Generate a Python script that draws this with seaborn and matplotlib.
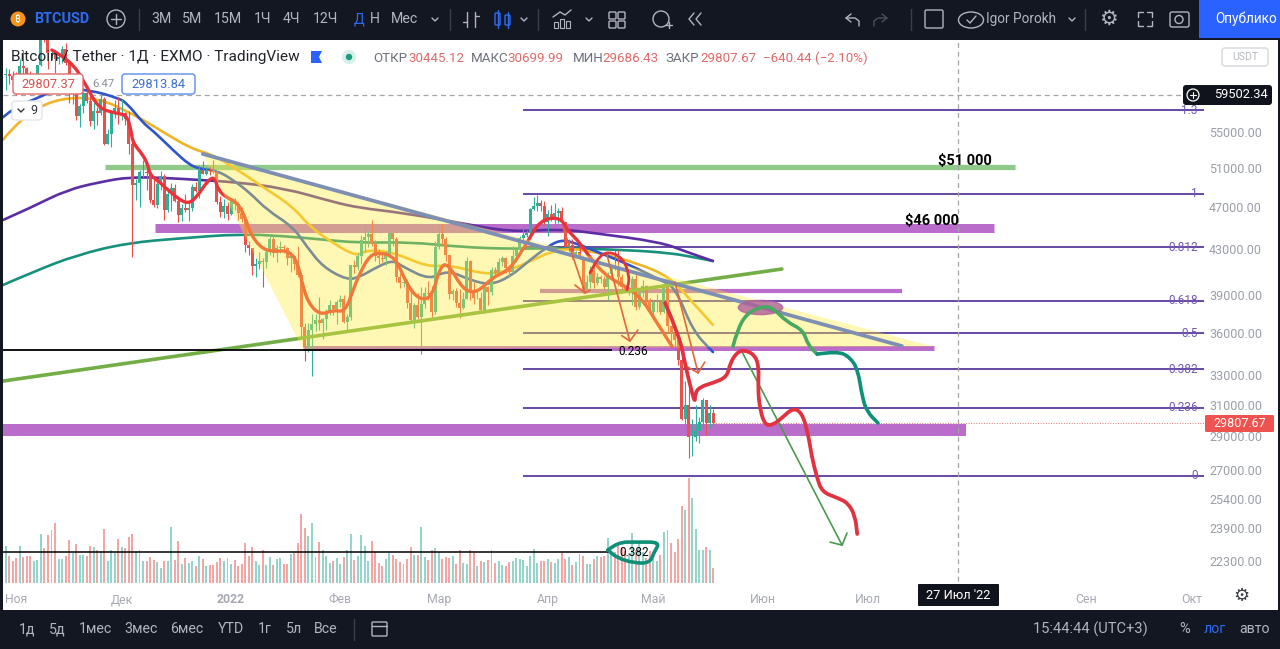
import pandas as pd
import matplotlib
matplotlib.use("Agg")
import matplotlib.pyplot as plt
from matplotlib.markers import MarkerStyle
from matplotlib.patches import Circle, Ellipse, FancyBboxPatch, PathPatch, Rectangle
from matplotlib.path import Path
from matplotlib.ticker import NullFormatter, NullLocator
from matplotlib.transforms import Affine2D
import seaborn as sns

# -----------------------------
# DATA (day 0 = 1 Nov 2021)
# -----------------------------
open_oct = [62000, 62200, 61900]
open_nov = [61300, 61000, 63200, 62900, 61400, 61000, 61500, 63300, 67500, 66900, 64900, 64900, 64100, 64400, 65500,
            63600, 60100, 60400, 56900, 58100, 59700, 58700, 56300, 57500, 57200, 58900, 53600, 54800, 57200, 57800]
open_dec = [57000, 57200, 56500, 53600, 49200, 49400, 50600, 50600, 50500, 47700, 47200, 49300, 50100, 46700, 48300, 48900,
            47600, 46200, 46900, 46700, 46900, 49000, 48600, 50800, 50400, 50800, 50700, 50600, 47500, 46500, 47100]
open_jan = [46300, 47700, 47300, 46400, 45800, 43400, 43100, 41500, 41700, 41900, 41800, 42700, 43900, 42600, 43100, 43200,
            43100, 42200, 42400, 41700, 40700, 36500, 35000, 36300, 36700, 37000, 36800, 37100, 37700, 38200, 37900]
open_feb = [38500, 38700, 36900, 37300, 41600, 41400, 42400, 43800, 44100, 44400, 43500, 42400, 42200, 42100,
            42500, 44500, 43900, 40500, 40000, 40100, 38400, 37000, 38200, 37300, 38300, 39200, 39100, 37700]
open_mar = [43200, 44400, 43900, 42500, 39100, 39400, 38400, 37990, 38700, 41900, 39400, 38800, 38800, 37800, 39700, 39300,
            41100, 40900, 41800, 42200, 41300, 41000, 42400, 42900, 44000, 44300, 44500, 46800, 47100, 47400, 47100]
open_apr = [45500, 46300, 45800, 46400, 46600, 45500, 43200, 43400, 42300, 42700, 42150, 39500, 40100, 41100, 40000,
            40500, 40400, 39700, 40800, 41500, 41400, 40500, 39700, 39450, 39450, 40400, 38100, 39200, 39750, 38600]
open_may = [37650, 38450, 38500, 37700, 39700, 36550, 36000, 35500, 34050, 30100, 31000, 28950, 28950, 29300, 29900,
            31300, 29850, 30445.12]

high_oct = [62900, 62800, 62500]
high_nov = [62400, 64200, 65400, 63100, 62600, 61900, 63300, 67800, 68500, 69000, 65500, 65400, 65000, 65900, 66300,
            63500, 61000, 60900, 58300, 59800, 60000, 59300, 58600, 58000, 59400, 59200, 55300, 57400, 58800, 59200]
high_dec = [59000, 57400, 57500, 53900, 49800, 50800, 51900, 51100, 50700, 50000, 49700, 50700, 50300, 48900, 49400, 49300,
            47900, 47300, 48300, 47500, 49300, 49500, 51300, 51800, 51100, 51200, 51900, 50700, 48100, 47800, 47500]
high_jan = [47900, 47900, 47500, 47000, 46000, 43700, 43100, 42200, 42700, 42200, 43000, 44200, 44300, 43400, 43700, 43400,
            43200, 42700, 42500, 43300, 41000, 36800, 36800, 37500, 37500, 38900, 37200, 37900, 38600, 38200, 38600]
high_feb = [39000, 39000, 37500, 41600, 42000, 42600, 44300, 45200, 44700, 45700, 43800, 43000, 42700, 42800,
            44700, 44500, 44100, 40900, 40400, 40400, 39400, 38400, 39200, 39700, 39700, 40200, 39800, 43700]
high_mar = [44900, 45300, 44100, 42500, 39500, 39600, 39500, 39300, 42300, 42000, 40100, 39500, 39300, 39900, 39800, 41400,
            41400, 42200, 42400, 42300, 41500, 43300, 43000, 44200, 45000, 44800, 46900, 48000, 48200, 47700, 47600]
high_apr = [46700, 47200, 47400, 46900, 47000, 45500, 43900, 43900, 42800, 43400, 42400, 40700, 41500, 41500, 40900,
            40700, 40600, 41000, 41700, 42900, 42900, 40800, 39900, 39700, 40600, 40800, 39400, 40300, 39900, 38800]
high_may = [38600, 39100, 38600, 40000, 39800, 36600, 36000, 35500, 34200, 32600, 32100, 30100, 31000, 30200, 31400,
            31300, 31000, 30699.99]

low_oct = [60100, 60800, 59900]
low_nov = [59400, 60100, 60700, 60700, 60800, 60100, 61400, 63200, 66400, 62800, 64200, 62300, 63400, 63600, 63300,
           58500, 58400, 56400, 55600, 57300, 58500, 55700, 55300, 55800, 57000, 53500, 53600, 53300, 56700, 55900]
low_dec = [56400, 55800, 52500, 42300, 47700, 47000, 50000, 48700, 47400, 47000, 46900, 48700, 45700, 46500, 46600, 47500,
           45500, 45600, 46500, 45600, 46600, 48500, 47900, 50400, 50200, 50200, 50500, 47300, 46000, 45900, 45700]
low_jan = [46200, 46700, 45700, 45500, 42700, 42500, 40700, 40500, 41200, 39700, 41300, 42500, 42300, 41800, 42600, 42600,
           41600, 41000, 41100, 40500, 35700, 34000, 34600, 32900, 36200, 36300, 35600, 36300, 37400, 37400, 36700]
low_feb = [38100, 36800, 36300, 37000, 40900, 41100, 41700, 42700, 43200, 43300, 41900, 41700, 41800, 41600,
           42500, 43300, 40100, 39600, 39700, 38000, 36800, 36400, 37100, 34500, 38000, 38600, 37000, 37500]
low_mar = [43000, 43400, 41900, 38700, 38600, 38100, 37200, 37900, 38700, 38600, 38300, 38700, 37600, 37600, 38200, 39000,
           40500, 40600, 41500, 40900, 40500, 40900, 41800, 42600, 43600, 44100, 44400, 46700, 46600, 46600, 45200]
low_apr = [44200, 45600, 45100, 45400, 45400, 43100, 42700, 42100, 42300, 42100, 39200, 39200, 39600, 39600, 39900,
           40000, 39500, 38600, 40500, 41100, 39800, 39200, 39300, 39000, 38200, 37800, 37900, 38900, 38200, 37600]
low_may = [37400, 37700, 37500, 37600, 36000, 35300, 34800, 33700, 30000, 29700, 27700, 27800, 28700, 28600, 29500,
           29100, 29500, 29686.43]

close_oct = [62200, 61900, 61300]
close_nov = [61000, 63200, 62900, 61400, 61000, 61500, 63300, 67500, 66900, 64900, 64900, 64100, 64400, 65500, 63600,
             60100, 60400, 56900, 58100, 59700, 58700, 56300, 57500, 57200, 58900, 53600, 54800, 57200, 57800, 57000]
close_dec = [57200, 56500, 53600, 49200, 49400, 50600, 50600, 50500, 47700, 47200, 49300, 50100, 46700, 48300, 48900, 47600,
             46200, 46900, 46700, 46900, 49000, 48600, 50800, 50400, 50800, 50700, 50600, 47500, 46500, 47100, 46300]
close_jan = [47700, 47300, 46400, 45800, 43400, 43100, 41500, 41700, 41900, 41800, 42700, 43900, 42600, 43100, 43200, 43100,
             42200, 42400, 41700, 40700, 36500, 35000, 36300, 36700, 37000, 36800, 37100, 37700, 38200, 37900, 38500]
close_feb = [38700, 36900, 37300, 41600, 41400, 42400, 43800, 44100, 44400, 43500, 42400, 42200, 42100, 42500,
             44500, 43900, 40500, 40000, 40100, 38400, 37000, 38200, 37300, 38300, 39200, 39100, 37700, 43200]
close_mar = [44400, 43900, 42500, 39100, 39400, 38400, 37990, 38700, 41900, 39400, 38800, 38800, 37800, 39700, 39300, 41100,
             40900, 41800, 42200, 41300, 41000, 42400, 42900, 44000, 44300, 44500, 46800, 47100, 47400, 47100, 45500]
close_apr = [46300, 45800, 46400, 46600, 45500, 43200, 43400, 42300, 42700, 42150, 39500, 40100, 41100, 40000, 40500,
             40400, 39700, 40800, 41500, 41400, 40500, 39700, 39450, 39450, 40400, 38100, 39200, 39750, 38600, 37650]
close_may = [38450, 38500, 37700, 39700, 36550, 36000, 35500, 34050, 30100, 31000, 28950, 28950, 29300, 29900, 31300,
             29850, 30445.12, 29807.67]

volume = [37, 27, 22,
          25, 37, 26, 27, 27, 22, 23, 49, 35, 48,
          53, 60, 24, 24, 27, 43, 30, 39, 28, 28,
          27, 37, 36, 33, 32, 54, 22, 33, 30, 44,
          36, 35, 46, 49, 32, 33, 22, 22, 26, 23,
          21, 15, 22, 22, 56, 23, 42, 19, 25, 20,
          22, 17, 27, 24, 17, 18, 18, 21, 25, 22,
          25, 19, 23, 17, 19, 40, 27, 36, 22, 18,
          33, 18, 26, 18, 24, 25, 19, 19, 29, 30,
          40, 69, 55, 47, 60, 26, 41, 33, 27, 20,
          22, 25, 19, 26, 33, 49, 23, 27, 48, 37,
          22, 42, 31, 20, 17, 24, 30, 28, 24, 21,
          19, 24, 36, 28, 28, 56, 26, 23, 33, 35,
          31, 24, 26, 25, 27, 19, 33, 20, 19, 33,
          30, 17, 22, 21, 23, 33, 20, 22, 18, 17,
          21, 22, 25, 24, 23, 17, 27, 34, 20, 22,
          22, 24, 21, 20, 24, 30, 24, 26, 18, 21,
          29, 27, 19, 19, 24, 27, 26, 27, 45, 30,
          31, 37, 35, 32, 30, 50, 33, 40, 31, 25,
          32, 24, 22, 28, 51, 53, 40, 31, 44, 77,
          73, 105, 85, 54, 33, 33, 36, 33, 15]

# moving averages
ema_day = [10.1, 15.3, 19.5, 23.2, 28, 31.4, 32.6, 33.1, 36, 37.4, 38, 40, 42.8, 45.7, 48.8, 51.3, 54.5, 56.4, 57.3, 59.9,
           62.7, 65, 66.4, 69.2, 72.6, 76.9, 79.7, 81.2, 82.9, 86.3, 90, 93.4, 95.7, 97.6, 100.5, 103.3, 106.2, 108.4,
           111.3, 114.7, 118.1, 120.4, 122.6, 126.9, 130.9, 135.4, 140.2, 145.1, 148.8, 154.5, 156.5, 160.2, 163, 167.9,
           173.5, 178, 182, 186.3]
ema_px = [65360, 64000, 60980, 57850, 57240, 57000, 55230, 53750, 52410, 51300, 50240, 49720, 48790, 47870, 47270, 47970,
          49720, 50040, 48690, 47870, 47470, 46000, 44480, 43180, 42730, 42910, 42010, 40030, 38390, 37420, 37820, 37660,
          39450, 40880, 42460, 42640, 42460, 41750, 39700, 38630, 38870, 41410, 41750, 39450, 39200, 40540, 41140, 43550,
          45700, 46000, 44750, 43550, 42180, 40540, 39700, 38630, 36800, 35030]
blue_day = [-3.8, -0.4, 4.7, 12.4, 20.9, 28.9, 31.4, 36, 38.6, 44.5, 49.3, 53, 57, 61.6, 66.4, 71.2, 78.6, 82.6, 87.1, 93.9,
            97.6, 102.5, 107, 109.9, 117.5, 122.4, 128.9, 134.6, 140.2, 145.9, 150.8, 154.5, 158.1, 165.8, 174.3, 182.9,
            187.1, 192.2, 197.9]
blue_px = [56730, 57950, 58830, 60340, 60080, 59080, 58460, 56050, 55230, 52950, 51270, 50830, 50720, 49720, 48380, 46680,
           45040, 43180, 41410, 40290, 40540, 41410, 42010, 41410, 40290, 41140, 40290, 39860, 40540, 42010, 43180, 43820,
           43640, 42640, 41580, 40290, 39700, 36180, 34620]
yellow_day = [-3.8, -2.4, 4.7, 12.7, 23.2, 32.6, 40.8, 49.3, 55.9, 61.6, 69.2, 78.6, 83.4, 90, 94.8, 97.6, 99.6, 107, 116.7,
              123.2, 133.7, 140.2, 146.8, 151.6, 157.3, 165.8, 176.3, 185.7, 192.2, 197.9]
yellow_px = [54090, 54880, 57600, 59080, 59080, 57240, 55230, 53170, 52410, 51100, 49200, 47000, 45040, 43550, 42640, 42460,
             42910, 42730, 41410, 41580, 40710, 41140, 42010, 42730, 43090, 42640, 41750, 40540, 38390, 36660]
purple_day = [-3.8, 4.7, 14.4, 23.8, 32.3, 42.8, 52.2, 61.6, 75.8, 90, 97.6, 109.9, 126.1, 140.2, 154.5, 163.8, 182.9, 190.5, 197.9]
purple_px = [45700, 47000, 48690, 49510, 50040, 49930, 49720, 49510, 48900, 47470, 46880, 46390, 45420, 44570, 44850, 44480,
             43640, 42730, 41930]
teal_day = [-3.8, 4.7, 17.2, 31.4, 47.4, 63.6, 75.8, 85.4, 97.6, 111.8, 126.1, 141.1, 154.5, 173.5, 185.7, 192.2, 197.9]
teal_px = [39860, 40970, 42460, 43550, 44000, 44380, 44190, 43910, 43550, 43640, 43180, 43000, 43090, 42910, 42640, 42280, 41930]

# drawings on the chart
tri_day = [53, 81.4, 260.4]
tri_px = [52520, 34850, 35030]
trend_day = [53, 251.6]
trend_px = [52520, 35060]
support_day = [-3.8, 217.5]
support_px = [32570, 41230]

fib_levels = ["1.3", "1", "0.812", "0.618", "0.5", "0.382", "0.236", "0"]
fib_px = [57600, 48280, 43180, 38550, 36000, 33400, 30780, 26680]

band_px = [44900, 39360, 34880, 29380]
band_start = [39.4, 148.8, 81.4, -3.8]
band_end = [277.8, 251.6, 260.7, 269.8]

red_day = [184.3, 188.5, 190, 192.8, 192.8, 194.3, 197.9, 201.9, 202.8, 204.8, 207, 209.8, 211, 210.7, 211.3, 212.7, 215,
           217.8, 220.7, 223.2, 224.9, 226, 227.4, 228.9, 233.2, 236.3, 238.3, 238.9]
red_px = [38390, 35730, 33690, 30970, 31760, 32180, 32440, 32840, 33830, 34620, 34770, 34400, 33540, 31960, 30650, 29690,
          29690, 30200, 30780, 30460, 29200, 27760, 26620, 25790, 25480, 25200, 24520, 23610]
arc_day = [163, 165, 168.2, 172.4, 174.3, 173.5]
arc_px = [40880, 42180, 42820, 42180, 40540, 39450]
green_day = [203.6, 204.8, 207.6, 212.1, 215, 218.9, 223.5, 224.9, 227.5]
green_px = [35030, 36260, 37580, 38130, 37980, 36880, 36260, 35140, 34470]
teal2_day = [227.5, 233.2, 236.8, 239.1, 240.3, 241.7, 244.8]
teal2_px = [34470, 34690, 34260, 33340, 31500, 30520, 29820]
scribble_day = [168.1, 170.7, 176.6, 182.9, 181.2, 180, 175.5, 170.7, 168.1]
scribble_px = [22820, 23210, 23210, 23210, 22730, 22210, 22210, 22450, 22820]

# arrows: shaft start, tip, two head ends
arrow1_day = [155.3, 161.6, 158.7, 161.6, 163]
arrow1_px = [45040, 39200, 39860, 39200, 39450]
arrow2_day = [167.8, 174.3, 172, 174.3, 176.6]
arrow2_px = [42460, 35430, 35840, 35430, 36260]
arrow3_day = [187.1, 193.7, 190.8, 193.7, 195.6]
arrow3_px = [40120, 33130, 33540, 33130, 33900]
arrow4_day = [206.2, 234.6, 231.2, 234.6, 236]
arrow4_px = [34620, 23060, 23210, 23060, 23660]

price_ticks = [55000, 51000, 47000, 43000, 39000, 36000, 33000, 31000, 29000, 27000, 25400, 23900, 22300]
month_days = [0, 30, 61, 92, 120, 151, 181, 212, 242, 304, 334]
month_labels = ["Ноя", "Дек", "2022", "Фев", "Мар", "Апр", "Май", "Июн", "Июл", "Сен", "Окт"]

cross_price = 59502.34
cross_day = 267.6
last_close = 29807.67

# -----------------------------
# CHART
# -----------------------------
df = pd.DataFrame({
    "open": open_oct + open_nov + open_dec + open_jan + open_feb + open_mar + open_apr + open_may,
    "high": high_oct + high_nov + high_dec + high_jan + high_feb + high_mar + high_apr + high_may,
    "low": low_oct + low_nov + low_dec + low_jan + low_feb + low_mar + low_apr + low_may,
    "close": close_oct + close_nov + close_dec + close_jan + close_feb + close_mar + close_apr + close_may,
    "volume": volume,
})
df["day"] = df.index - 3
df["up"] = df["close"] >= df["open"]

sns.set_theme(style="white")
plt.rcParams["font.family"] = ["Roboto", "DejaVu Sans"]

fig = plt.figure(figsize=(12.8, 6.49), dpi=100, facecolor="white")
ax = fig.add_axes([3 / 1280, 39 / 649, 1202 / 1280, 570 / 649])
vol_ax = ax.twinx()
ax.set_zorder(vol_ax.get_zorder() + 1)
ax.patch.set_visible(False)

ax.set_yscale("log")
ax.set_xlim(-3.78, 337.7)
ax.set_ylim(20120, 66750)
vol_ax.set_ylim(-27, 543)
vol_ax.set_yticks([])
for side in ax.spines:
    ax.spines[side].set_visible(False)
    vol_ax.spines[side].set_visible(False)

UP = "#2fae98"
DOWN = "#ea4f4c"


def curve(days, prices, color, lw, zorder):
    # rounded stroke through the read points (quadratic path, the points stay as they are)
    pts = list(zip(days, prices))
    verts = [pts[0]]
    codes = [Path.MOVETO]
    for a, b in zip(pts[1:-1], pts[2:]):
        verts += [a, ((a[0] + b[0]) / 2, (a[1] + b[1]) / 2)]
        codes += [Path.CURVE3, Path.CURVE3]
    verts.append(pts[-1])
    codes.append(Path.LINETO)
    ax.add_patch(PathPatch(Path(verts, codes), fill=False, edgecolor=color, linewidth=lw,
                           capstyle="round", joinstyle="round", zorder=zorder))


# Volume
vol_ax.bar(df["day"], df["volume"], width=0.55,
           color=["#93d5ca" if u else "#f5a5a3" for u in df["up"]], linewidth=0)

# Horizontal bands and levels
ax.hlines(51090, 25.2, 283.7, color="#8fca8a", linewidth=3.8, zorder=1)
for p, a, b, w in zip(band_px, band_start, band_end, [6.5, 3, 3.6, 8.6]):
    ax.hlines(p, a, b, color="#b96cca", linewidth=w, zorder=1)
ax.hlines(fib_px, 143.9, 337.4, color="#5b3b9d", linewidth=1.3, zorder=2)
for name, p in zip(fib_levels, fib_px):
    ax.text(335.6, p, name, color="#7257b4", fontsize=8.5, ha="right", va="center", zorder=3)
ax.hlines(34770, -3.78, 169.2, color="black", linewidth=1.3, zorder=6)
ax.hlines(22730, -3.78, 168.7, color="black", linewidth=1.1, zorder=6)
ax.hlines(cross_price, -3.78, 337.7, color="#a6a6a6", linewidth=0.9, linestyles=(0, (4, 3)), zorder=2)
ax.vlines(cross_day, 21000, 66750, color="#a6a6a6", linewidth=0.9, linestyles=(0, (4, 3)), zorder=2)
ax.hlines(last_close, 198, 337.7, color="#e57373", linewidth=0.7, linestyles=":", zorder=2)

# Moving averages
curve(teal_day, teal_px, "#17907c", 1.9, 3)
curve(purple_day, purple_px, "#5c2ea3", 1.9, 3)
curve(yellow_day, yellow_px, "#f0b429", 1.9, 3)
curve(blue_day, blue_px, "#2f55c9", 1.9, 3)

# Candles
ax.vlines(df["day"], df["low"], df["high"], color=[UP if u else DOWN for u in df["up"]], linewidth=0.8, zorder=4)
ax.bar(df["day"], (df["close"] - df["open"]).abs(), bottom=df[["open", "close"]].min(axis=1), width=0.85,
       color=[UP if u else DOWN for u in df["up"]], linewidth=0, zorder=4)
curve(ema_day, ema_px, "#e8333a", 2.4, 5)

# Yellow triangle lies over everything drawn so far
ax.fill(tri_day, tri_px, color="#ffeb3b", alpha=0.38, linewidth=0, zorder=6)

# Trend lines
sns.lineplot(x=trend_day, y=trend_px, color="#7d8fb3", linewidth=2.7, ax=ax, zorder=7)
sns.lineplot(x=support_day, y=support_px, color="#73ad46", linewidth=2.6, ax=ax, zorder=5)

# Hand drawings
ellipse = MarkerStyle("o", transform=Affine2D().scale(1, 0.32))
ax.plot([211.3], [38060], marker=ellipse, markersize=32, color="#b0609c", alpha=0.8, linewidth=0, zorder=8)
for d, p in [(arrow1_day, arrow1_px), (arrow2_day, arrow2_px), (arrow3_day, arrow3_px)]:
    sns.lineplot(x=d[:2], y=p[:2], sort=False, estimator=None, color="#e2673e", linewidth=1.2, ax=ax, zorder=8)
    sns.lineplot(x=d[2:], y=p[2:], sort=False, estimator=None, color="#e2673e", linewidth=1.2, ax=ax, zorder=8)
sns.lineplot(x=arrow4_day[:2], y=arrow4_px[:2], sort=False, estimator=None, color="#4c9a50", linewidth=1.2, ax=ax, zorder=8)
sns.lineplot(x=arrow4_day[2:], y=arrow4_px[2:], sort=False, estimator=None, color="#4c9a50", linewidth=1.2, ax=ax, zorder=8)
curve(arc_day, arc_px, "#e0353f", 2, 9)
curve(red_day, red_px, "#e0323f", 2.7, 9)
curve(green_day, green_px, "#4aa862", 2.6, 9)
curve(teal2_day, teal2_px, "#0f8f77", 2.6, 9)
curve(scribble_day, scribble_px, "#0f8f77", 2.6, 9)

ax.text(269.5, 51700, "$51 000", fontsize=10.5, fontweight="bold", color="black", ha="center", va="center", zorder=10)
ax.text(260.2, 45600, "$46 000", fontsize=10.5, fontweight="bold", color="black", ha="center", va="center", zorder=10)
ax.text(175.2, 34680, "0.236", fontsize=8.5, color="black", ha="center", va="center", zorder=10)
ax.text(175.6, 22690, "0.382", fontsize=8.5, color="black", ha="center", va="center", zorder=10)

# Axes ticks
ax.yaxis.tick_right()
ax.yaxis.set_minor_locator(NullLocator())
ax.yaxis.set_minor_formatter(NullFormatter())
ax.set_yticks(price_ticks)
ax.set_yticklabels([f"{p:.2f}" for p in price_ticks])
ax.tick_params(axis="y", length=0, pad=3, labelsize=9, labelcolor="#9a9ea8")
ax.set_xticks(month_days)
ax.set_xticklabels(month_labels)
ax.tick_params(axis="x", length=0, pad=-12, labelsize=8.8, labelcolor="#a6a9b2")
ax.get_xticklabels()[2].set_fontweight("bold")
ax.set_xlabel("")
ax.set_ylabel("")

# -----------------------------
# SCREEN AROUND THE CHART
# -----------------------------
ui = fig.add_axes([0, 0, 1, 1], zorder=20)
ui.set_xlim(0, 1280)
ui.set_ylim(649, 0)
ui.axis("off")
ui.patch.set_visible(False)

DARK = "#131722"
GREY = "#b2b5be"


def label(x, y, s, color=GREY, size=10.2, ha="center", **kw):
    ui.text(x, y, s, color=color, fontsize=size, ha=ha, va="center", **kw)


def box(x, y, w, h, face="white", edge="none", lw=1, rad=3):
    ui.add_patch(FancyBboxPatch((x + rad, y + rad), w - 2 * rad, h - 2 * rad, boxstyle=f"round,pad={rad}",
                                facecolor=face, edgecolor=edge, linewidth=lw))


def stroke(xs, ys, color=GREY, lw=1):
    ui.plot(xs, ys, color=color, linewidth=lw, solid_capstyle="round")


ui.add_patch(Rectangle((0, 0), 1280, 40, color=DARK, linewidth=0))
ui.add_patch(Rectangle((0, 610), 1280, 39, color=DARK, linewidth=0))
ui.add_patch(Rectangle((0, 0), 3, 649, color=DARK, linewidth=0))
ui.add_patch(Rectangle((1278, 0), 2, 649, color=DARK, linewidth=0))
ui.add_patch(Rectangle((1199, 0), 81, 38, color="#2962ff", linewidth=0))

# top bar
ui.add_patch(Circle((18, 19), 7.5, color="#f7931a", linewidth=0))
label(18, 19.5, "₿", color="white", size=7, family=["Noto Sans", "Inter", "Roboto"])
label(34, 19, "BTCUSD", color="#2f6bf0", size=10.4, ha="left", fontweight="bold")
ui.add_patch(Circle((116, 19), 9, facecolor="none", edgecolor=GREY, linewidth=1))
stroke([111, 121], [19, 19])
stroke([116, 116], [14, 24])
for x, s in zip([161, 192, 228, 263, 291, 325, 375, 405], ["3М", "5М", "15М", "1Ч", "4Ч", "12Ч", "Н", "Мес"]):
    label(x, 19, s)
label(359, 19, "Д", color="#2f6bf0")
for x in [139, 450, 538, 911, 1085]:
    stroke([x, x], [9, 30], color="#3a3e4a")
for x in [435, 524, 589, 1072]:
    stroke([x - 3, x, x + 3], [18, 21, 18])
# bars, candles, indicators, layouts
stroke([467, 467], [12, 27])
stroke([463, 467], [22, 22])
stroke([475, 475], [12, 27])
stroke([475, 479], [16, 16])
box(495, 13, 5, 12, face="none", edge="#2f6bf0", rad=1)
box(505, 15, 5, 10, face="none", edge="#2f6bf0", rad=1)
stroke([497.5, 497.5], [10, 28], color="#2f6bf0")
stroke([507.5, 507.5], [12, 28], color="#2f6bf0")
stroke([553, 560, 565, 571], [17, 12, 15, 10])
for x, h in [(554, 6), (560, 9), (566, 7)]:
    ui.add_patch(Rectangle((x, 28 - h), 4, h, facecolor="none", edgecolor=GREY, linewidth=0.8))
for x, y in [(609, 12), (618, 12), (609, 21), (618, 21)]:
    box(x, y, 7, 7, face="none", edge=GREY, rad=1)
ui.add_patch(Circle((661, 19), 8, facecolor="none", edgecolor=GREY, linewidth=1))
stroke([666, 672], [25, 25])
stroke([669, 669], [22, 28])
stroke([694, 689, 694], [13, 19, 25])
stroke([701, 696, 701], [13, 19, 25])
# undo, redo
stroke([851, 846, 851], [14, 18, 22])
stroke([846, 855, 859, 859], [18, 18, 21, 26])
stroke([882, 887, 882], [14, 18, 22], color="#4a4e5a")
stroke([887, 878, 874, 874], [18, 18, 21, 26], color="#4a4e5a")
box(925, 10, 18, 18, face="none", edge=GREY, rad=1.5)
ui.add_patch(Ellipse((971, 20), 25, 16, facecolor="none", edgecolor=GREY, linewidth=1))
stroke([967, 970, 976], [20, 23, 16])
label(1021, 19, "Igor Porokh", size=9.8)
label(1108, 19, "⚙", size=15, family=["DejaVu Sans"])
for xs, ys in [([1138, 1138, 1143], [17, 12, 12]), ([1147, 1152, 1152], [12, 12, 17]),
               ([1138, 1138, 1143], [21, 26, 26]), ([1147, 1152, 1152], [26, 26, 21])]:
    stroke(xs, ys)
box(1170, 12, 19, 15, face="none", edge=GREY, rad=2)
ui.add_patch(Circle((1179, 19.5), 4, facecolor="none", edgecolor=GREY, linewidth=1))
ui.text(1215, 19, "Опублико", color="white", fontsize=9.8, ha="left", va="center", clip_on=True)

# header line
label(11, 57, "Bitcoin / Tether · 1Д · EXMO · TradingView", color="#20232b", size=11.1, ha="left")
ui.fill([311, 322, 319, 322, 311], [51, 51, 57, 63, 63], color="#2962ff", linewidth=0)
ui.add_patch(Circle((349, 57), 7, color="#d6efe9", linewidth=0))
ui.add_patch(Circle((349, 57), 3.2, color="#1c9d83", linewidth=0))
for x, s, c in [(373, "ОТКР", "#6c707a"), (408, "30445.12", "#e06a6a"), (471, "МАКС", "#6c707a"),
                (507, "30699.99", "#e06a6a"), (573, "МИН", "#6c707a"), (602, "29686.43", "#e06a6a"),
                (665, "ЗАКР", "#6c707a"), (700, "29807.67", "#e06a6a"), (763, "−640.44 (−2.10%)", "#e06a6a")]:
    label(x, 58, s, color=c, size=9.6, ha="left")
box(13, 74, 70, 20, edge="#e06a6a")
label(48, 84, "29807.37", color="#d9534f", size=9.3)
label(103, 84, "6.47", color="#8a8e99", size=8.2)
box(122, 74, 73, 20, edge="#5b8def")
label(158.5, 84, "29813.84", color="#3c6fd8", size=9.3)
box(12, 101, 30, 19, face="white", edge="#e4e6ea")
label(34, 110.5, "9", color="#30343c", size=9)
stroke([18, 21, 24], [109, 112, 109], color="#30343c")
box(1222, 48, 46, 18, face="white", edge="#d6d8dd")
label(1245, 57, "USDT", color="#b6b9c1", size=7.6)

# price and date flags
box(1183, 85, 89, 20, face="#10131b")
ui.add_patch(Circle((1193, 95), 6, facecolor="none", edgecolor="white", linewidth=0.9))
stroke([1190, 1196], [95, 95], color="white", lw=0.8)
stroke([1193, 1193], [92, 98], color="white", lw=0.8)
label(1241, 95, "59502.34", color="white", size=9.3)
box(1205, 415, 69, 17, face="#ef5350", rad=1.5)
label(1239.5, 423.5, "29807.67", color="white", size=9)
box(918, 584, 81, 22, face="#10131b", rad=1)
label(958.5, 595.5, "27 Июл '22", color="white", size=9.3)
label(1241, 596, "⚙", color="#3c3f47", size=13, family=["DejaVu Sans"])

# bottom bar
for x, s in zip([27, 57, 95, 141, 187, 231, 265, 294, 326],
                ["1д", "5д", "1мес", "3мес", "6мес", "YTD", "1г", "5л", "Все"]):
    label(x, 629, s)
stroke([354, 354], [619, 640], color="#3a3e4a")
box(372, 622, 15, 14, face="none", edge=GREY, rad=1)
stroke([372, 387], [626, 626])
label(1090, 629, "15:44:44 (UTC+3)", size=10.5)
label(1185, 629, "%", size=10.5)
label(1215, 629, "лог", color="#2f6bf0", size=10.2)
label(1254, 629, "авто", size=10.2)

fig.savefig("out.png", dpi=100)
